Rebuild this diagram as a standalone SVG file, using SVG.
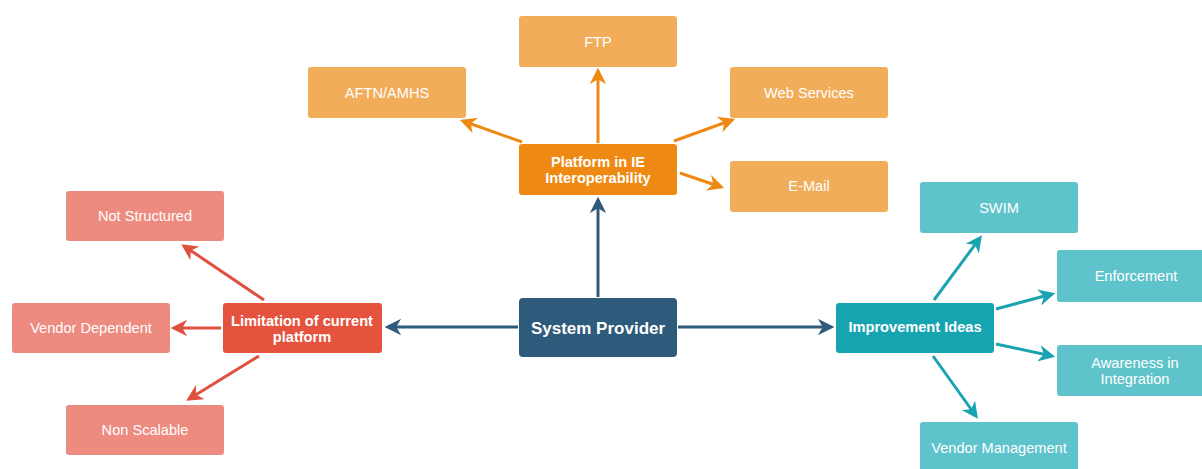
<svg xmlns="http://www.w3.org/2000/svg" width="1202" height="469" viewBox="0 0 1202 469">
<style>
text{font-family:"Liberation Sans",Arial,sans-serif;text-anchor:middle;dominant-baseline:central;fill:#fff}
.t{font-size:14.6px}
.b{font-size:14.6px;font-weight:bold}
.lo{fill:#F2AD5B}.mo{fill:#EE8A13}
.lr{fill:#EE8B80}.mr{fill:#E5533F}
.lt{fill:#5FC3CB}.mt{fill:#17A4B1}
.sp{fill:#2E5A7B}
.co,.cr,.ct,.cb{fill:none;stroke-width:3}
.co{stroke:#EE8A13}.cr{stroke:#E0503F}.ct{stroke:#1AA3B0}.cb{stroke:#2F5C7D}
</style>
<defs>
<marker id="ao" viewBox="0 0 10 10" refX="8" refY="5" markerWidth="5.5" markerHeight="5.5" orient="auto" markerUnits="strokeWidth"><path d="M0,0 L10,5 L0,10 L3,5 Z" fill="#EE8A13"/></marker>
<marker id="ar" viewBox="0 0 10 10" refX="8" refY="5" markerWidth="5.5" markerHeight="5.5" orient="auto" markerUnits="strokeWidth"><path d="M0,0 L10,5 L0,10 L3,5 Z" fill="#E0503F"/></marker>
<marker id="at" viewBox="0 0 10 10" refX="8" refY="5" markerWidth="5.5" markerHeight="5.5" orient="auto" markerUnits="strokeWidth"><path d="M0,0 L10,5 L0,10 L3,5 Z" fill="#1AA3B0"/></marker>
<marker id="ab" viewBox="0 0 10 10" refX="8" refY="5" markerWidth="5.5" markerHeight="5.5" orient="auto" markerUnits="strokeWidth"><path d="M0,0 L10,5 L0,10 L3,5 Z" fill="#2F5C7D"/></marker>
</defs>
<rect width="1202" height="469" fill="#fff"/>
<g id="connectors">
<path class="cb" d="M598,297 L598,200" marker-end="url(#ab)"/>
<path class="cb" d="M518,327 L388,327" marker-end="url(#ab)"/>
<path class="cb" d="M678,327 L831,327" marker-end="url(#ab)"/>
<path class="co" d="M598,143 L598,71" marker-end="url(#ao)"/>
<path class="co" d="M522,142 L463,121" marker-end="url(#ao)"/>
<path class="co" d="M674,141 L732,120" marker-end="url(#ao)"/>
<path class="co" d="M680,173 L721,187" marker-end="url(#ao)"/>
<path class="cr" d="M264,300 L184,246" marker-end="url(#ar)"/>
<path class="cr" d="M221,328 L174,328" marker-end="url(#ar)"/>
<path class="cr" d="M259,356 L189,399" marker-end="url(#ar)"/>
<path class="ct" d="M934,300 L980,238" marker-end="url(#at)"/>
<path class="ct" d="M996,309 L1052,294" marker-end="url(#at)"/>
<path class="ct" d="M996,344 L1052,356" marker-end="url(#at)"/>
<path class="ct" d="M933,356 L976,416" marker-end="url(#at)"/>
</g>
<g id="system-provider"><rect class="sp" x="519" y="298" width="158" height="59" rx="4"/><text x="598" y="328" style="font-size:17px;font-weight:bold">System Provider</text></g>
<g id="platform"><rect class="mo" x="519" y="144" width="158" height="51" rx="3"/><text class="b" x="598" y="162">Platform in IE</text><text class="b" x="598" y="178">Interoperability</text></g>
<g id="ftp"><rect class="lo" x="519" y="16" width="158" height="51" rx="3"/><text class="t" x="598" y="42">FTP</text></g>
<g id="aftn"><rect class="lo" x="308" y="67" width="158" height="51" rx="3"/><text class="t" x="387" y="93">AFTN/AMHS</text></g>
<g id="web"><rect class="lo" x="730" y="67" width="158" height="51" rx="3"/><text class="t" x="809" y="93">Web Services</text></g>
<g id="email"><rect class="lo" x="730" y="161" width="158" height="51" rx="3"/><text class="t" x="809" y="186">E-Mail</text></g>
<g id="limitation"><rect class="mr" x="223" y="303" width="159" height="50" rx="3"/><text class="b" x="302" y="321">Limitation of current</text><text class="b" x="302" y="337">platform</text></g>
<g id="not-structured"><rect class="lr" x="66" y="191" width="158" height="50" rx="3"/><text class="t" x="145" y="216">Not Structured</text></g>
<g id="vendor-dependent"><rect class="lr" x="12" y="303" width="158" height="50" rx="3"/><text class="t" x="91" y="328">Vendor Dependent</text></g>
<g id="non-scalable"><rect class="lr" x="66" y="405" width="158" height="50" rx="3"/><text class="t" x="145" y="430">Non Scalable</text></g>
<g id="improvement"><rect class="mt" x="836" y="303" width="158" height="50" rx="3"/><text class="b" x="915" y="327">Improvement Ideas</text></g>
<g id="swim"><rect class="lt" x="920" y="182" width="158" height="51" rx="3"/><text class="t" x="999" y="208">SWIM</text></g>
<g id="enforcement"><rect class="lt" x="1057" y="250" width="150" height="52" rx="3"/><text class="t" x="1136" y="276">Enforcement</text></g>
<g id="awareness"><rect class="lt" x="1057" y="345" width="150" height="51" rx="3"/><text class="t" x="1135" y="363">Awareness in</text><text class="t" x="1135" y="379">Integration</text></g>
<g id="vendor-management"><rect class="lt" x="920" y="422" width="158" height="52" rx="3"/><text class="t" x="999" y="448">Vendor Management</text></g>
</svg>
